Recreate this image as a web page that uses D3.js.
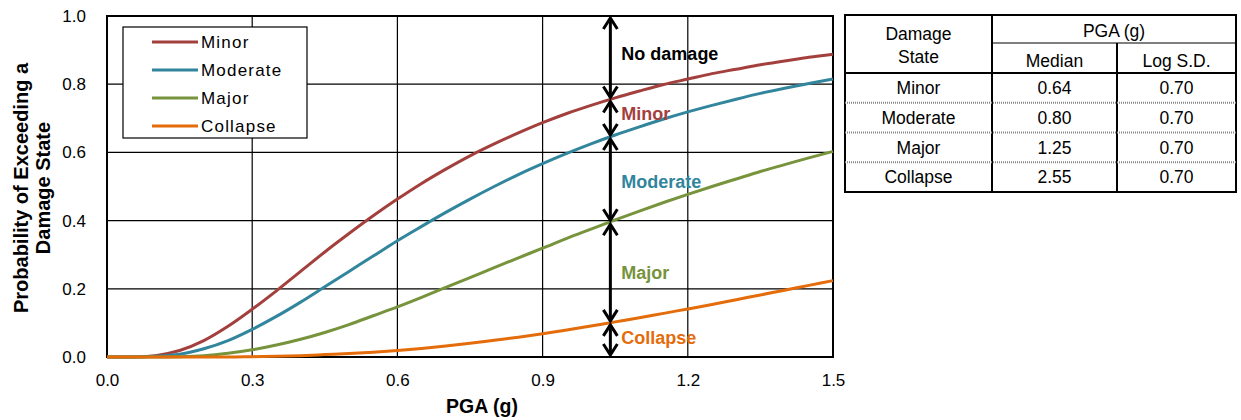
<!DOCTYPE html>
<html>
<head>
<meta charset="utf-8">
<script src="https://cdn.jsdelivr.net/npm/d3@7"></script>
<style>
  body { margin: 0; background: #fff; }
  svg { font-family: "Liberation Sans", Arial, sans-serif; }
</style>
</head>
<body>
<svg id="chart" width="1241" height="420"></svg>
<script>
// Fragility curves: probability of exceeding each damage state vs PGA
// values every 0.05 g

const pga = [0.00, 0.05, 0.10, 0.15, 0.20, 0.25, 0.30, 0.35, 0.40, 0.45, 0.50,
             0.55, 0.60, 0.65, 0.70, 0.75, 0.80, 0.85, 0.90, 0.95, 1.00,
             1.05, 1.10, 1.15, 1.20, 1.25, 1.30, 1.35, 1.40, 1.45, 1.50];

const minor = [0.000, 0.000, 0.004, 0.019, 0.048, 0.090, 0.140, 0.194, 0.251, 0.308, 0.362,
               0.414, 0.463, 0.509, 0.551, 0.590, 0.625, 0.657, 0.687, 0.714, 0.738,
               0.760, 0.780, 0.799, 0.815, 0.831, 0.844, 0.857, 0.868, 0.879, 0.888];

const moderate = [0.000, 0.000, 0.002, 0.008, 0.024, 0.048, 0.081, 0.119, 0.161, 0.206, 0.251,
                  0.296, 0.341, 0.383, 0.424, 0.463, 0.500, 0.535, 0.567, 0.597, 0.625,
                  0.651, 0.675, 0.698, 0.719, 0.738, 0.756, 0.773, 0.788, 0.802, 0.815];

const major = [0.000, 0.000, 0.000, 0.001, 0.004, 0.011, 0.021, 0.035, 0.052, 0.072, 0.095,
               0.121, 0.147, 0.175, 0.204, 0.233, 0.262, 0.291, 0.319, 0.348, 0.375,
               0.402, 0.428, 0.453, 0.477, 0.500, 0.522, 0.544, 0.564, 0.584, 0.603];

const collapse = [0.000, 0.000, 0.000, 0.000, 0.000, 0.000, 0.001, 0.002, 0.004, 0.007, 0.010,
                  0.014, 0.019, 0.025, 0.032, 0.040, 0.049, 0.058, 0.068, 0.079, 0.091,
                  0.103, 0.115, 0.128, 0.141, 0.154, 0.168, 0.182, 0.196, 0.210, 0.224];

const seriesNames = ['Minor', 'Moderate', 'Major', 'Collapse'];
const seriesValues = [minor, moderate, major, collapse];
const seriesColors = ['#a3403d', '#31859c', '#77933c', '#e46c0a'];

// damage band arrows at one PGA level
const arrowPGA = 1.04;
const bandNames = ['No damage', 'Minor', 'Moderate', 'Major', 'Collapse'];
const bandEdges = [1.0, 0.755, 0.645, 0.395, 0.100, 0.0];
const bandColors = ['#000', '#a3403d', '#31859c', '#77933c', '#e46c0a'];

const xTicks = [0.0, 0.3, 0.6, 0.9, 1.2, 1.5];
const yTicks = [0.0, 0.2, 0.4, 0.6, 0.8, 1.0];

// table values
const tableStates = ['Minor', 'Moderate', 'Major', 'Collapse'];
const tableMedian = ['0.64', '0.80', '1.25', '2.55'];
const tableLogSD = ['0.70', '0.70', '0.70', '0.70'];

const svg = d3.select('#chart');

const plot = {left: 107, right: 833, top: 16, bottom: 357};

const x = d3.scaleLinear().domain([0, 1.5]).range([plot.left, plot.right]);
const y = d3.scaleLinear().domain([0, 1]).range([plot.bottom, plot.top]);

// grid
svg.append('g')
    .selectAll('line.vgrid')
    .data(xTicks.slice(1, -1))
    .enter().append('line')
    .attr('x1', d => x(d)).attr('x2', d => x(d))
    .attr('y1', plot.top).attr('y2', plot.bottom)
    .attr('stroke', '#000').attr('stroke-width', 1.2);

svg.append('g')
    .selectAll('line.hgrid')
    .data(yTicks.slice(1, -1))
    .enter().append('line')
    .attr('x1', plot.left).attr('x2', plot.right)
    .attr('y1', d => y(d)).attr('y2', d => y(d))
    .attr('stroke', '#000').attr('stroke-width', 1.2);

// plot border
svg.append('rect')
    .attr('x', plot.left).attr('y', plot.top)
    .attr('width', plot.right - plot.left).attr('height', plot.bottom - plot.top)
    .attr('fill', 'none').attr('stroke', '#000').attr('stroke-width', 2);

// axes (tick labels only)
const xAxis = svg.append('g')
    .attr('transform', `translate(0,${plot.bottom})`)
    .call(d3.axisBottom(x).tickValues(xTicks).tickFormat(d3.format('.1f')).tickSize(0).tickPadding(17));
xAxis.select('.domain').remove();
xAxis.selectAll('text')
    .attr('fill', '#000').style('font-size', '17px').style('font-family', '"Liberation Sans", Arial, sans-serif');

const yAxis = svg.append('g')
    .attr('transform', `translate(${plot.left},0)`)
    .call(d3.axisLeft(y).tickValues(yTicks).tickFormat(d3.format('.1f')).tickSize(0).tickPadding(21));
yAxis.select('.domain').remove();
yAxis.selectAll('text')
    .attr('fill', '#000').style('font-size', '17px').style('font-family', '"Liberation Sans", Arial, sans-serif');

// axis titles
svg.append('text')
    .attr('x', 482)
    .attr('y', 413)
    .attr('text-anchor', 'middle')
    .style('font-size', '19.5px').style('font-weight', 'bold')
    .text('PGA (g)');

const yTitle = svg.append('text')
    .attr('transform', `translate(28, 188) rotate(-90)`)
    .attr('text-anchor', 'middle')
    .style('font-size', '20px').style('font-weight', 'bold');
yTitle.append('tspan').attr('x', 0).attr('dy', 0).text('Probability of Exceeding a');
yTitle.append('tspan').attr('x', 0).attr('dy', 21.5).text('Damage State');

// curves
const line = d3.line()
    .x((d, i) => x(pga[i]))
    .y(d => y(d))
    .curve(d3.curveMonotoneX);

seriesValues.forEach((vals, k) => {
    svg.append('path')
        .datum(vals)
        .attr('fill', 'none')
        .attr('stroke', seriesColors[k])
        .attr('stroke-width', 3)
        .attr('stroke-linejoin', 'round')
        .attr('d', line);
});

// band arrows
const ax = x(arrowPGA);
function chevron(g, tipY, dir) {
    // dir = -1 pointing up, +1 pointing down
    g.append('path')
        .attr('d', `M${ax - 7},${tipY - dir * 11} L${ax},${tipY} L${ax + 7},${tipY - dir * 11}`)
        .attr('fill', 'none').attr('stroke', '#000').attr('stroke-width', 3)
        .attr('stroke-linejoin', 'miter');
}
const arrows = svg.append('g');
bandNames.forEach((name, i) => {
    const y1 = y(bandEdges[i]) + 2;
    const y2 = y(bandEdges[i + 1]) - 2;
    arrows.append('line')
        .attr('x1', ax).attr('x2', ax)
        .attr('y1', y1).attr('y2', y2)
        .attr('stroke', '#000').attr('stroke-width', 3);
    chevron(arrows, y1, -1);
    chevron(arrows, y2, 1);

    const labelShift = [-4, -5, 2, 0, -2][i];
    arrows.append('text')
        .attr('x', ax + 11)
        .attr('y', (y1 + y2) / 2 + labelShift)
        .attr('dy', '0.35em')
        .attr('fill', bandColors[i])
        .style('font-size', '18px').style('font-weight', 'bold')
        .text(name);
});

// legend
const legend = svg.append('g').attr('transform', 'translate(123,27)');
legend.append('rect')
    .attr('width', 184).attr('height', 111)
    .attr('fill', '#fff').attr('stroke', '#000').attr('stroke-width', 1.2);
seriesNames.forEach((name, i) => {
    const g = legend.append('g').attr('transform', `translate(0,${15 + i * 28})`);
    g.append('line')
        .attr('x1', 29).attr('x2', 75)
        .attr('stroke', seriesColors[i]).attr('stroke-width', 3);
    g.append('text')
        .attr('x', 78).attr('dy', '0.35em')
        .style('font-size', '17px').style('letter-spacing', '1.2px')
        .text(name);
});

// table
const tb = {left: 845, right: 1236, top: 15, bottom: 192, c1: 992, c2: 1117, sub: 43, head: 73};
const rowH = (tb.bottom - tb.head) / tableStates.length;
const table = svg.append('g').style('font-size', '17.5px');

table.append('rect')
    .attr('x', tb.left).attr('y', tb.top)
    .attr('width', tb.right - tb.left).attr('height', tb.bottom - tb.top)
    .attr('fill', 'none').attr('stroke', '#000').attr('stroke-width', 2);
table.append('line')
    .attr('x1', tb.c1).attr('x2', tb.c1).attr('y1', tb.top).attr('y2', tb.bottom)
    .attr('stroke', '#000').attr('stroke-width', 2);
table.append('line')
    .attr('x1', tb.c2).attr('x2', tb.c2).attr('y1', tb.sub).attr('y2', tb.bottom)
    .attr('stroke', '#000').attr('stroke-width', 2);
table.append('line')
    .attr('x1', tb.c1).attr('x2', tb.right).attr('y1', tb.sub).attr('y2', tb.sub)
    .attr('stroke', '#000').attr('stroke-width', 1.2);
table.append('line')
    .attr('x1', tb.left).attr('x2', tb.right).attr('y1', tb.head).attr('y2', tb.head)
    .attr('stroke', '#000').attr('stroke-width', 2);
d3.range(1, tableStates.length).forEach(i => {
    table.append('line')
        .attr('x1', tb.left).attr('x2', tb.right)
        .attr('y1', tb.head + i * rowH).attr('y2', tb.head + i * rowH)
        .attr('stroke', '#888').attr('stroke-width', 2).attr('stroke-dasharray', '1,1');
});

const c0 = (tb.left + tb.c1) / 2, cm = (tb.c1 + tb.c2) / 2, cs = (tb.c2 + tb.right) / 2;
function cell(cx, cy, txt) {
    table.append('text')
        .attr('x', cx).attr('y', cy).attr('dy', '0.35em')
        .attr('text-anchor', 'middle').text(txt);
}
cell(c0, 34, 'Damage');
cell(c0, 57, 'State');
cell((tb.c1 + tb.right) / 2, 31, 'PGA (g)');
cell(cm, 61, 'Median');
cell(cs, 61, 'Log S.D.');
tableStates.forEach((s, i) => {
    const cy = tb.head + (i + 0.5) * rowH;
    cell(c0, cy, s);
    cell(cm, cy, tableMedian[i]);
    cell(cs, cy, tableLogSD[i]);
});
</script>
</body>
</html>
